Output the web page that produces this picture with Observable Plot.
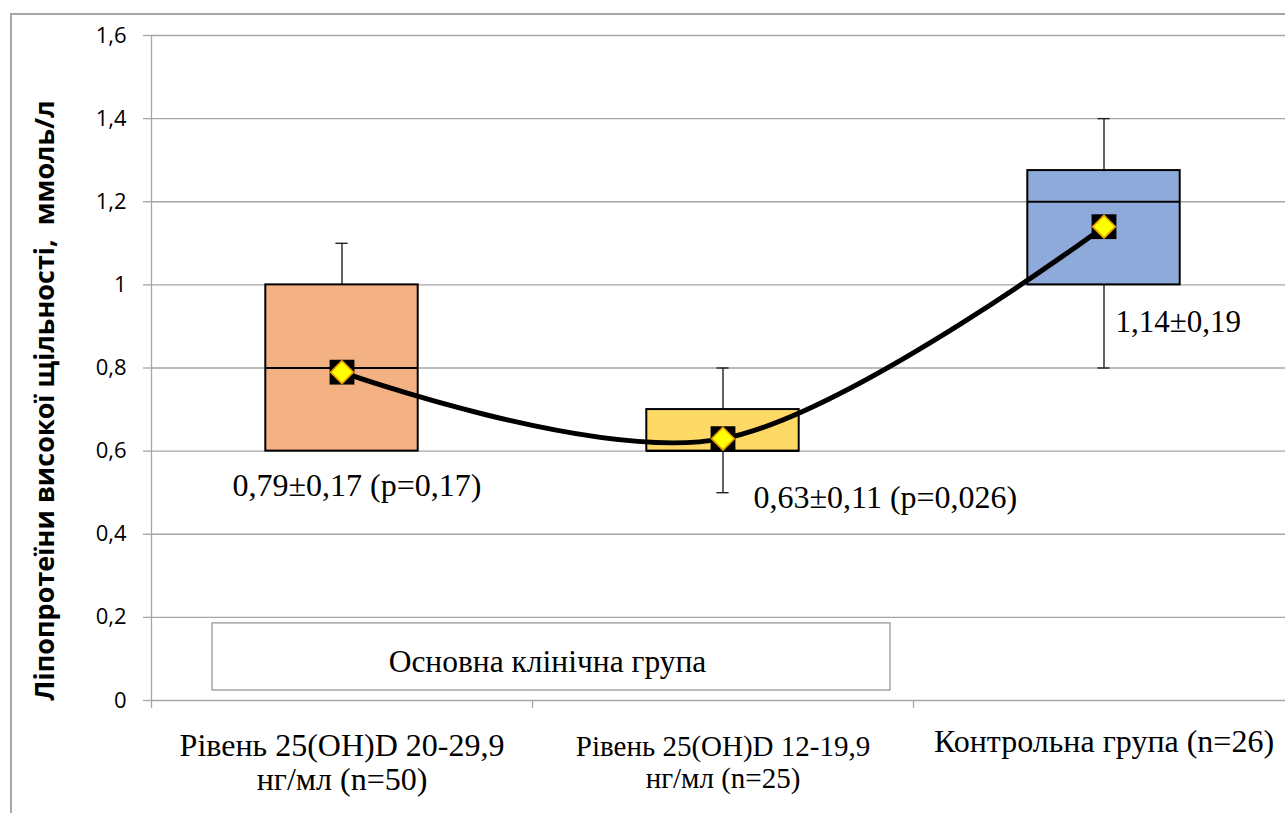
<!DOCTYPE html>
<html><head><meta charset="utf-8">
<script src="https://cdn.jsdelivr.net/npm/d3@7"></script>
<script src="https://cdn.jsdelivr.net/npm/@observablehq/plot@0.6"></script>
<style>
html,body{margin:0;padding:0;background:#fff;}
#wrap{position:relative;width:1285px;height:813px;overflow:hidden;}
#frame{position:absolute;left:10px;top:13px;width:1400px;height:900px;border:2px solid #a6a6a6;box-sizing:border-box;}
#chart{position:absolute;left:0;top:0;}
</style></head><body>
<div id="wrap"><div id="frame"></div><div id="chart"></div></div>
<script>
// ---- data ----
const categories = ["Рівень 25(OH)D 20-29,9\nнг/мл (n=50)", "Рівень 25(OH)D 12-19,9\nнг/мл (n=25)", "Контрольна група (n=26)"];
const boxLow = [0.6, 0.6, 1.0];
const boxHigh = [1.0, 0.7, 1.275];
const medians = [0.8, 0.6, 1.2];
const whiskerLow = [0.6, 0.5, 0.8];
const whiskerHigh = [1.1, 0.8, 1.4];
const means = [0.79, 0.63, 1.14];
const meanLabels = ["0,79±0,17 (p=0,17)", "0,63±0,11 (p=0,026)", "1,14±0,19"];
const boxColors = ["#F4B183", "#FFD966", "#8EAADB"];
const yTicks = [0, 0.2, 0.4, 0.6, 0.8, 1.0, 1.2, 1.4, 1.6];
const yTitle = "Ліпопротеїни високої щільності,  ммоль/л";
const groupLabel = "Основна клінічна група";
const groupMembers = [0, 1];

// ---- layout / style ----
const serif = "'Liberation Serif','Times New Roman',serif";
const sans = "'Open Sans','Noto Sans',sans-serif";
const gridColor = "#a6a6a6";
const halfBox = 0.2, halfCap = 0.016;
const labelNudge = [{dx: -109.5, dy: 124, size: 32}, {dx: 30.5, dy: 69, size: 32}, {dx: 11.5, dy: 105, size: 31}];
const catStyle = [{size: 32, dy: 31, lh: 1.06}, {size: 29, dy: 32.5, lh: 1.1}, {size: 32, dy: 27, lh: 1.06}];

const rows = categories.map((c, i) => ({
  i, cat: c, lo: boxLow[i], hi: boxHigh[i], med: medians[i],
  wLo: whiskerLow[i], wHi: whiskerHigh[i], mean: means[i], label: meanLabels[i], color: boxColors[i]
}));
const lowWhiskers = rows.filter(d => d.wLo < d.lo);
const gx1 = d3.min(groupMembers) - 0.5, gx2 = d3.max(groupMembers) + 0.5;

const marks = [
  Plot.gridY(yTicks, {stroke: gridColor, strokeOpacity: 1, strokeWidth: 1.3}),
  Plot.ruleX([-0.5], {stroke: gridColor, strokeWidth: 1.3}),
  Plot.axisY(yTicks, {tickSize: 8, tickPadding: 17, stroke: gridColor, strokeWidth: 1.3, fill: "#000",
    tickFormat: d => String(d).replace(".", ","), fontSize: 22, fontFamily: sans, label: null}),
  Plot.axisX([-0.5, 0.5, 1.5], {tickSize: 8, stroke: gridColor, strokeWidth: 1.3, tickFormat: () => "", label: null}),
  // group annotation box
  Plot.rect([groupLabel], {x1: gx1, x2: gx2, y1: 0, y2: 0.2, insetLeft: 61, insetRight: 23, insetTop: 6, insetBottom: 10,
    fill: "white", stroke: "#999", strokeWidth: 1.3}),
  Plot.text([groupLabel], {x: (gx1 + gx2) / 2, y: 0.1, dx: 15, dy: 2.5, fontSize: 31.5, fontFamily: serif, fill: "#000"}),
  // whiskers
  Plot.ruleX(rows, {x: "i", y1: "hi", y2: "wHi", stroke: "#222", strokeWidth: 1.4}),
  Plot.ruleX(lowWhiskers, {x: "i", y1: "wLo", y2: "lo", stroke: "#222", strokeWidth: 1.4}),
  Plot.ruleY(rows, {y: "wHi", x1: d => d.i - halfCap, x2: d => d.i + halfCap, stroke: "#222", strokeWidth: 1.4}),
  Plot.ruleY(lowWhiskers, {y: "wLo", x1: d => d.i - halfCap, x2: d => d.i + halfCap, stroke: "#222", strokeWidth: 1.4}),
  // boxes
  Plot.rect(rows, {x1: d => d.i - halfBox, x2: d => d.i + halfBox, y1: "lo", y2: "hi", fill: "color", stroke: "#000", strokeWidth: 2}),
  Plot.ruleY(rows, {y: "med", x1: d => d.i - halfBox, x2: d => d.i + halfBox, stroke: "#000", strokeWidth: 1.8}),
  // smooth mean line
  Plot.line(rows, {x: "i", y: "mean", curve: "cardinal", stroke: "#000", strokeWidth: 5}),
  // mean markers
  Plot.dot(rows, {x: "i", y: "mean", symbol: "square", r: 14, fill: "#000", stroke: null}),
  Plot.dot(rows, {x: "i", y: "mean", symbol: "diamond2", r: 10.3, fill: "#FFFF00", stroke: "#E89B00", strokeWidth: 1.6}),
  // mean labels
  ...rows.map((d, k) => Plot.text([d], {x: "i", y: "mean", text: "label", textAnchor: "start", lineAnchor: "bottom",
    dx: labelNudge[k].dx, dy: labelNudge[k].dy, fontSize: labelNudge[k].size, fontFamily: serif, fill: "#000"})),
  // category labels
  ...rows.map((d, k) => Plot.text([d], {x: "i", frameAnchor: "bottom", text: "cat", lineAnchor: "top",
    dy: catStyle[k].dy, lineHeight: catStyle[k].lh, fontSize: catStyle[k].size, fontFamily: serif, fill: "#000"})),
  // y title
  Plot.text([yTitle], {frameAnchor: "left", textAnchor: "middle", dx: -106, dy: 32.5, rotate: -90,
    fontSize: 27, fontWeight: "bold", fontFamily: sans, fill: "#000"})
];

const chart = Plot.plot({
  width: 1285, height: 813,
  marginLeft: 151, marginRight: 0, marginTop: 35, marginBottom: 113,
  x: {type: "linear", domain: [-0.5, 2.5], range: [151, 1294]},
  y: {domain: [0, 1.6], range: [700, 35]},
  color: {type: "identity"},
  style: {background: "transparent", fontFamily: sans, fontSize: "22px", color: "#000", overflow: "visible"},
  marks
});
document.getElementById("chart").appendChild(chart);
</script>
</body></html>
